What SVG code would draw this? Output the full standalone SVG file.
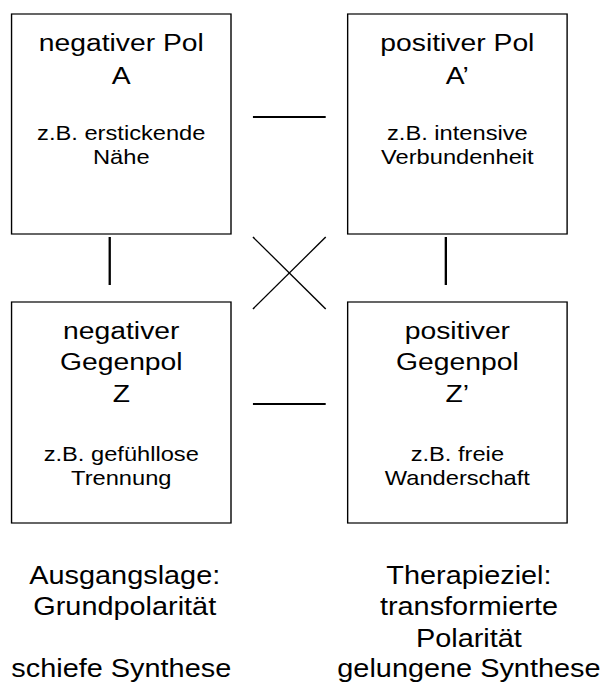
<svg xmlns="http://www.w3.org/2000/svg" width="604" height="684" viewBox="0 0 604 684">
<style>
.box{fill:#fff;stroke:#000;stroke-width:1.2}
.big{font-family:"Liberation Sans",Arial,sans-serif;font-size:24.5px;fill:#000;text-anchor:middle}
.lab{font-family:"Liberation Sans",Arial,sans-serif;font-size:25px;fill:#000;text-anchor:middle}
.small{font-family:"Liberation Sans",Arial,sans-serif;font-size:20.5px;fill:#000;text-anchor:middle}
.conn{stroke:#000;fill:none}
</style>
<rect width="604" height="684" fill="#fff"/>
<g transform="scale(1.155,1)">
<g id="nodeA">
<rect class="box" x="10" y="14" width="190" height="220"/>
<text class="big" x="105" y="51">negativer Pol</text>
<text class="big" x="105" y="84">A</text>
<text class="small" x="105" y="140">z.B. erstickende</text>
<text class="small" x="105" y="164">Nähe</text>
</g>
<g id="nodeA2">
<rect class="box" x="301" y="14" width="190" height="220"/>
<text class="big" x="396" y="51">positiver Pol</text>
<text class="big" x="396" y="84">A’</text>
<text class="small" x="396" y="140">z.B. intensive</text>
<text class="small" x="396" y="164">Verbundenheit</text>
</g>
<g id="nodeZ">
<rect class="box" x="10" y="302" width="190" height="221"/>
<text class="big" x="105" y="339">negativer</text>
<text class="big" x="105" y="370">Gegenpol</text>
<text class="big" x="105" y="402">Z</text>
<text class="small" x="105" y="461">z.B. gefühllose</text>
<text class="small" x="105" y="485">Trennung</text>
</g>
<g id="nodeZ2">
<rect class="box" x="301" y="302" width="190" height="221"/>
<text class="big" x="396" y="339">positiver</text>
<text class="big" x="396" y="370">Gegenpol</text>
<text class="big" x="396" y="402">Z’</text>
<text class="small" x="396" y="461">z.B. freie</text>
<text class="small" x="396" y="485">Wanderschaft</text>
</g>
<g id="connectors">
<line class="conn" x1="219" y1="117" x2="282" y2="117" stroke-width="2"/>
<line class="conn" x1="219" y1="404" x2="282" y2="404" stroke-width="2"/>
<line class="conn" x1="95" y1="237" x2="95" y2="285" stroke-width="2"/>
<line class="conn" x1="386" y1="237" x2="386" y2="285" stroke-width="2"/>
<line class="conn" x1="219" y1="237" x2="282" y2="309" stroke-width="1.2"/>
<line class="conn" x1="282" y1="237" x2="219" y2="309" stroke-width="1.2"/>
</g>
<g id="labels">
<text class="lab" x="108" y="584">Ausgangslage:</text>
<text class="lab" x="108" y="615">Grundpolarität</text>
<text class="lab" x="105" y="677">schiefe Synthese</text>
<text class="lab" x="406" y="584">Therapieziel:</text>
<text class="lab" x="406" y="615">transformierte</text>
<text class="lab" x="406" y="647">Polarität</text>
<text class="lab" x="406" y="677">gelungene Synthese</text>
</g>
</g>
</svg>
